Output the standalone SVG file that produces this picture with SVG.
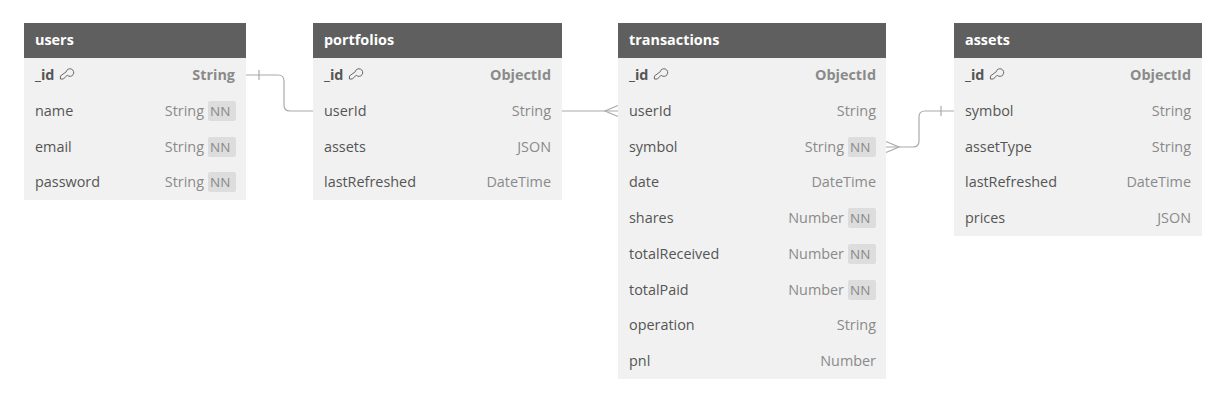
<svg xmlns="http://www.w3.org/2000/svg" width="1226" height="402" viewBox="0 0 1226 402">
<style>
.hdr{fill:#5f5f5f}
.body{fill:#f1f1f1}
.ht{font-family:"Open Sans",sans-serif;font-weight:700;font-size:14.4px;fill:#ffffff}
.fn{font-family:"Open Sans",sans-serif;font-size:14.4px;fill:#555555}
.fnb{font-family:"Open Sans",sans-serif;font-size:14.4px;font-weight:700;fill:#555555}
.ty{font-family:"Open Sans",sans-serif;font-size:14.4px;fill:#8a8a8a;text-anchor:end}
.tyb{font-family:"Open Sans",sans-serif;font-size:14.4px;font-weight:700;fill:#8a8a8a;text-anchor:end}
.nn{fill:#dddddd}
.nnt{font-family:"Open Sans",sans-serif;font-size:13.5px;fill:#8a8a8a}
.key{fill:none;stroke:#666666;stroke-width:1}
.conn{fill:none;stroke:#aaaaaa;stroke-width:1.2}
</style>
<defs>
<g id="keyicon"><path class="key" d="M1.2 -2.2 A3.8 3.8 0 1 1 2.2 1.2 L-1.6 5 H-4.6 V2 Z"/></g>
</defs>
<rect width="1226" height="402" fill="#ffffff"/>

<g id="connectors">
<path class="conn" d="M246 75 H278 Q284 75 284 81 V105 Q284 111 290 111 H313"/>
<path class="conn" d="M259 70 V80"/>
<path class="conn" d="M562 111 H618"/>
<path class="conn" d="M618 105.5 L605 111 L618 116.5"/>
<path class="conn" d="M886 147 H913 Q919 147 919 141 V117 Q919 111 925 111 H954"/>
<path class="conn" d="M886 141.5 L899 147 L886 152.5"/>
<path class="conn" d="M941 106 V116"/>
</g>

<g id="users">
<rect class="body" x="24" y="57" width="222" height="143"/>
<rect class="hdr" x="24" y="23" width="222" height="35"/>
<text class="ht" x="35" y="45">users</text>
<text class="fnb" x="35" y="80">_id</text><use href="#keyicon" x="65" y="74"/>
<text class="tyb" x="235" y="80">String</text>
<text class="fn" x="35" y="116">name</text>
<rect class="nn" x="208" y="101" width="28" height="20" rx="2"/><text class="nnt" x="210" y="116">NN</text>
<text class="ty" x="204" y="116">String</text>
<text class="fn" x="35" y="152">email</text>
<rect class="nn" x="208" y="137" width="28" height="20" rx="2"/><text class="nnt" x="210" y="152">NN</text>
<text class="ty" x="204" y="152">String</text>
<text class="fn" x="35" y="187">password</text>
<rect class="nn" x="208" y="172" width="28" height="20" rx="2"/><text class="nnt" x="210" y="187">NN</text>
<text class="ty" x="204" y="187">String</text>
</g>

<g id="portfolios">
<rect class="body" x="313" y="57" width="249" height="143"/>
<rect class="hdr" x="313" y="23" width="249" height="35"/>
<text class="ht" x="324" y="45">portfolios</text>
<text class="fnb" x="324" y="80">_id</text><use href="#keyicon" x="354" y="74"/>
<text class="tyb" x="551" y="80">ObjectId</text>
<text class="fn" x="324" y="116">userId</text>
<text class="ty" x="551" y="116">String</text>
<text class="fn" x="324" y="152">assets</text>
<text class="ty" x="551" y="152">JSON</text>
<text class="fn" x="324" y="187">lastRefreshed</text>
<text class="ty" x="551" y="187">DateTime</text>
</g>

<g id="transactions">
<rect class="body" x="618" y="57" width="268" height="322"/>
<rect class="hdr" x="618" y="23" width="268" height="35"/>
<text class="ht" x="629" y="45">transactions</text>
<text class="fnb" x="629" y="80">_id</text><use href="#keyicon" x="659" y="74"/>
<text class="tyb" x="876" y="80">ObjectId</text>
<text class="fn" x="629" y="116">userId</text>
<text class="ty" x="876" y="116">String</text>
<text class="fn" x="629" y="152">symbol</text>
<rect class="nn" x="848" y="137" width="28" height="20" rx="2"/><text class="nnt" x="850" y="152">NN</text>
<text class="ty" x="844" y="152">String</text>
<text class="fn" x="629" y="187">date</text>
<text class="ty" x="876" y="187">DateTime</text>
<text class="fn" x="629" y="223">shares</text>
<rect class="nn" x="848" y="208" width="28" height="20" rx="2"/><text class="nnt" x="850" y="223">NN</text>
<text class="ty" x="844" y="223">Number</text>
<text class="fn" x="629" y="259">totalReceived</text>
<rect class="nn" x="848" y="244" width="28" height="20" rx="2"/><text class="nnt" x="850" y="259">NN</text>
<text class="ty" x="844" y="259">Number</text>
<text class="fn" x="629" y="295">totalPaid</text>
<rect class="nn" x="848" y="280" width="28" height="20" rx="2"/><text class="nnt" x="850" y="295">NN</text>
<text class="ty" x="844" y="295">Number</text>
<text class="fn" x="629" y="330">operation</text>
<text class="ty" x="876" y="330">String</text>
<text class="fn" x="629" y="366">pnl</text>
<text class="ty" x="876" y="366">Number</text>
</g>

<g id="assets">
<rect class="body" x="954" y="57" width="248" height="179"/>
<rect class="hdr" x="954" y="23" width="248" height="35"/>
<text class="ht" x="965" y="45">assets</text>
<text class="fnb" x="965" y="80">_id</text><use href="#keyicon" x="995" y="74"/>
<text class="tyb" x="1191" y="80">ObjectId</text>
<text class="fn" x="965" y="116">symbol</text>
<text class="ty" x="1191" y="116">String</text>
<text class="fn" x="965" y="152">assetType</text>
<text class="ty" x="1191" y="152">String</text>
<text class="fn" x="965" y="187">lastRefreshed</text>
<text class="ty" x="1191" y="187">DateTime</text>
<text class="fn" x="965" y="223">prices</text>
<text class="ty" x="1191" y="223">JSON</text>
</g>
</svg>
